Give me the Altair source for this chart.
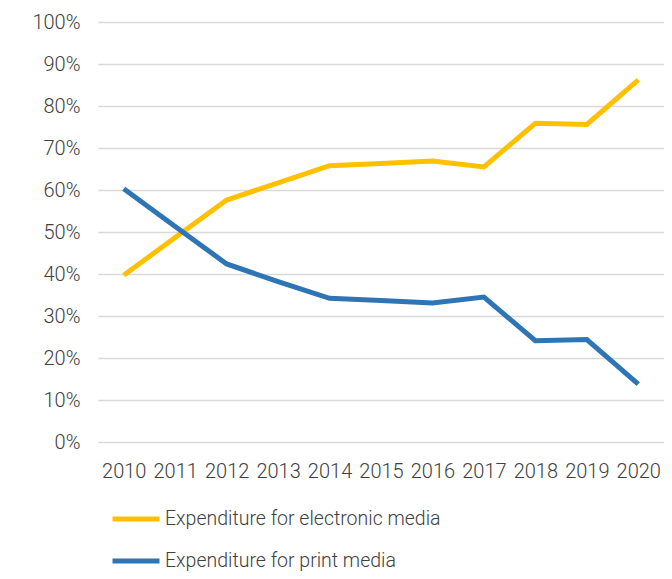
import altair as alt
import pandas as pd

years = ["2010", "2011", "2012", "2013", "2014", "2015", "2016", "2017", "2018", "2019", "2020"]
electronic = [39.7, 48.7, 57.6, 61.7, 65.8, 66.3, 66.9, 65.5, 75.9, 75.6, 86.2]
print_media = [60.3, 51.3, 42.4, 38.2, 34.2, 33.7, 33.1, 34.5, 24.1, 24.4, 13.8]
series = ["Expenditure for electronic media", "Expenditure for print media"]
colors = ["#FFC000", "#2E75B6"]

rows = []
for i, y in enumerate(years):
    rows.append({"year": y, "series": series[0], "value": electronic[i], "order": 0})
    rows.append({"year": y, "series": series[1], "value": print_media[i], "order": 1})
df = pd.DataFrame(rows)

FONT = "Roboto"
TEXT = "#404040"

chart = (
    alt.Chart(df)
    .mark_line(strokeWidth=5, strokeCap="butt", strokeJoin="miter")
    .encode(
        x=alt.X(
            "year:O",
            sort=years,
            scale=alt.Scale(type="point", padding=0.5),
            axis=alt.Axis(
                title=None, domain=False, ticks=False, grid=False, labelAngle=0,
                labelFont=FONT, labelFontSize=20, labelFontWeight=300, labelColor=TEXT,
                labelPadding=19,
            ),
        ),
        y=alt.Y(
            "value:Q",
            scale=alt.Scale(domain=[0, 100], nice=False),
            axis=alt.Axis(
                title=None, domain=False, ticks=False, values=list(range(0, 101, 10)),
                labelExpr="datum.value + '%'", gridColor="#d9d9d9", gridWidth=1.5,
                labelFont=FONT, labelFontSize=20, labelFontWeight=300, labelColor=TEXT,
                labelPadding=18,
            ),
        ),
        color=alt.Color(
            "series:N",
            sort=series,
            scale=alt.Scale(domain=series, range=colors),
            legend=alt.Legend(
                title=None, orient="none", legendX=12, legendY=471,
                direction="vertical", symbolType="stroke", symbolSize=2209,
                symbolStrokeWidth=5, labelFont=FONT, labelFontSize=19.5,
                labelFontWeight=300, labelColor=TEXT, labelOffset=3, rowPadding=6,
                labelLimit=400,
            ),
        ),
        order=alt.Order("order:Q"),
    )
    .properties(
        width=566, height=420,
        autosize=alt.AutoSizeParams(type="none"),
        padding={"left": 90, "top": 14, "right": 0, "bottom": 129},
    )
    .configure_view(stroke=None)
)

chart.save("out.html", embed_options={"renderer": "svg", "actions": False})
